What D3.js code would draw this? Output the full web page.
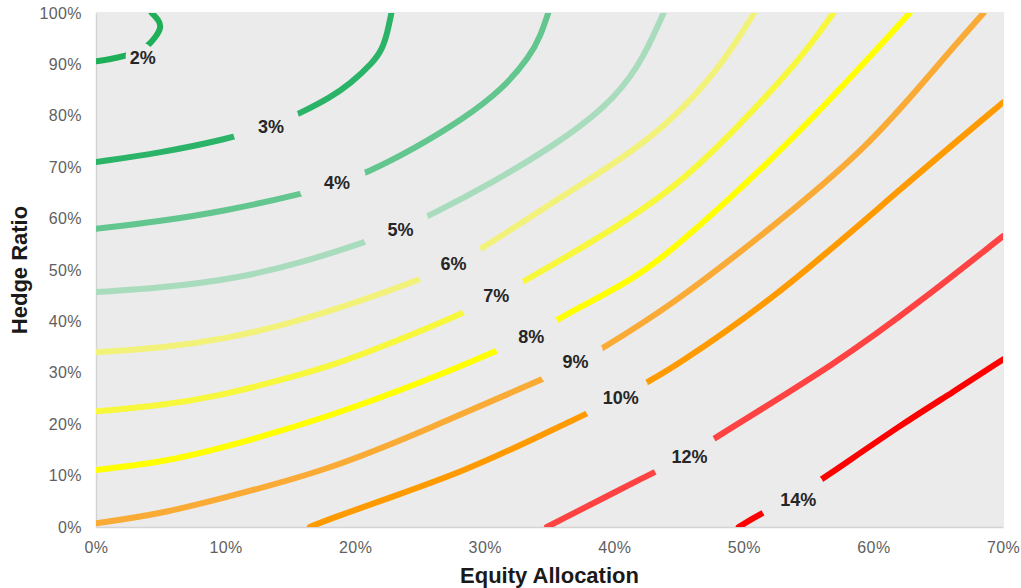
<!DOCTYPE html>
<html>
<head>
<meta charset="utf-8">
<script src="https://cdn.jsdelivr.net/npm/d3@7"></script>
<style>
  body { margin: 0; background: #fff; }
  svg { display: block; }
</style>
</head>
<body>
<div id="grafica-contornos"></div>
<script>
// volatility levels (one contour each)
const levels = ['2%', '3%', '4%', '5%', '6%', '7%', '8%', '9%', '10%', '12%', '14%']

// contour points: [equity allocation %, hedge ratio %]
const c2 = [[0, 90.6], [1.1, 91.0], [2.3, 91.7], [3.3, 92.4], [4.0, 93.6], [4.6, 95.3], [5.05, 97.2], [4.85, 98.6], [4.3, 100]]
const c3 = [[0, 71.0], [5, 72.8], [10, 75.4], [13.5, 77.9], [15.9, 80.7], [18.1, 83.6], [19.6, 86.2], [21.4, 90.4], [22.1, 93.0], [22.5, 96.3], [22.8, 100]]
const c4 = [[0, 58.0], [5, 59.5], [10, 61.5], [16.1, 64.9], [18.6, 66.8], [20.9, 68.9], [24.5, 73.5], [28.3, 79.3], [31.4, 85.2], [33.5, 91.6], [34.3, 95.5], [34.9, 100]]
const c5 = [[0, 45.7], [5, 46.5], [11, 48.4], [16, 51.5], [21, 55.6], [23.5, 58.0], [25.9, 60.8], [30.4, 66.7], [35.3, 74.1], [39.3, 81.5], [41.9, 89.3], [43.8, 100]]
const c6 = [[0, 34.0], [5, 34.8], [10, 36.6], [15, 39.6], [20, 43.6], [25.1, 48.2], [27.6, 51.0], [29.9, 54.3], [36, 64.4], [40.5, 71.5], [44.3, 78.7], [48.1, 89.1], [50.8, 100]]
const c7 = [[0, 22.5], [5, 23.6], [9.3, 25.4], [14, 28.4], [18.4, 31.5], [23, 36.0], [28.1, 41.3], [30.9, 44.8], [32.8, 47.5], [38, 55.0], [44.3, 65.0], [49.4, 77.4], [54.6, 91.7], [56.9, 100]]
const c8 = [[0, 11.1], [5, 12.6], [9.3, 15.0], [18.06, 21.5], [25, 28.0], [31.2, 34.5], [33.6, 37.4], [35.8, 40.7], [41.4, 48.1], [44.3, 53.4], [52.0, 70.9], [58.4, 87.8], [62.8, 100]]
const c9 = [[0, 0.7], [5, 2.6], [9.3, 5.3], [18.06, 11.1], [26, 19.5], [34.0, 28.3], [36.96, 31.5], [38.9, 34.5], [44.3, 42.9], [52.0, 57.9], [59.7, 74.1], [64.9, 89.7], [68.5, 100]]
const c10 = [[16.5, 0], [18.06, 1.6], [23, 6.0], [28.3, 10.8], [33, 16.2], [38.0, 22.2], [40.5, 25.3], [42.9, 28.7], [44.3, 30.6], [52.5, 44.6], [62.3, 66.3], [70, 82.6]]
const c12 = [[34.8, 0], [43.0, 10.6], [45.8, 14.0], [47.9, 17.6], [57.2, 31.9], [63.8, 44.2], [70, 56.6]]
const c14 = [[49.6, 0], [51.1, 2.3], [54.2, 6.3], [56.0, 9.2], [62.3, 20.2], [66, 26.0], [70, 32.6]]
const contours = [c2, c3, c4, c5, c6, c7, c8, c9, c10, c12, c14]

// where each level label sits, [equity %, hedge %]
const labelPos = [[3.6, 91.4], [13.5, 77.8], [18.6, 67.0], [23.5, 57.9], [27.6, 51.3], [30.9, 45.0], [33.6, 37.0], [37.0, 32.1], [40.5, 25.1], [45.8, 13.6], [54.2, 5.3]]

// axis ticks
const xTicks = [0, 10, 20, 30, 40, 50, 60, 70]
const yTicks = [0, 10, 20, 30, 40, 50, 60, 70, 80, 90, 100]

const lineColors = ['#1faf58', '#2bb468', '#62c68e', '#a8dcbd', '#f2f27a', '#f7f73c', '#ffff00', '#f9ab35', '#ff9a00', '#ff4242', '#ff0000']

const width = 1021
const height = 588
const margin = { top: 13, right: 18, bottom: 61, left: 96 }
const innerW = width - margin.left - margin.right
const innerH = height - margin.top - margin.bottom
const fontFam = 'Arial, "Liberation Sans", sans-serif'

const svg = d3.select('#grafica-contornos')
    .append('svg')
    .attr('width', width)
    .attr('height', height)

const x = d3.scaleLinear()
    .domain([0, 70])
    .range([margin.left, margin.left + innerW])

const y = d3.scaleLinear()
    .domain([0, 100])
    .range([margin.top + innerH, margin.top])

// plot background
svg.append('rect')
    .attr('x', x(0))
    .attr('y', y(100) - 1)
    .attr('width', x(70) - x(0) + 1)
    .attr('height', y(0) - y(100) + 1)
    .attr('fill', '#ebebeb')

const defs = svg.append('defs')
defs.append('clipPath')
    .attr('id', 'plot-clip')
    .append('rect')
    .attr('x', x(0))
    .attr('y', y(100))
    .attr('width', x(70) - x(0))
    .attr('height', y(0) - y(100))

// mask that opens a gap in each line where its label goes
const mask = defs.append('mask').attr('id', 'label-gaps')
mask.append('rect')
    .attr('width', width)
    .attr('height', height)
    .attr('fill', '#fff')
mask.selectAll('circle')
    .data(labelPos)
    .enter().append('circle')
    .attr('cx', (d, i) => x(d[0]) - (i === 0 ? 3 : 5))
    .attr('cy', (d, i) => y(d[1]) - (i === 0 ? 1 : 2))
    .attr('r', (d, i) => i === 0 ? 14 : 34)
    .attr('fill', '#000')

// axes
const xAxis = svg.append('g')
    .attr('class', 'x axis')
    .attr('transform', `translate(0, ${y(0)})`)
    .call(d3.axisBottom(x).tickValues(xTicks).tickFormat(d => d + '%').tickSize(0).tickPadding(15))

const yAxis = svg.append('g')
    .attr('class', 'y axis')
    .attr('transform', `translate(${x(0)}, 0)`)
    .call(d3.axisLeft(y).tickValues(yTicks).tickFormat(d => d + '%').tickSize(0).tickPadding(14))

svg.selectAll('.axis .domain').attr('stroke', '#d4d4d4').attr('stroke-width', 1.5)
svg.selectAll('.axis text')
    .style('font-family', fontFam)
    .style('font-size', '16px')
    .style('letter-spacing', '0.4px')
    .style('fill', '#5f5f5f')

// contour lines
const line = d3.line()
    .x(d => x(d[0]))
    .y(d => y(d[1]))
    .curve(d3.curveBasis)

svg.append('g')
    .attr('clip-path', 'url(#plot-clip)')
    .append('g')
    .attr('mask', 'url(#label-gaps)')
    .selectAll('.contour')
    .data(contours)
    .enter().append('path')
    .attr('class', 'contour')
    .attr('d', line)
    .attr('fill', 'none')
    .attr('stroke', (d, i) => lineColors[i])
    .attr('stroke-width', 6)
    .attr('stroke-linecap', 'round')

// level labels
svg.selectAll('.level')
    .data(levels)
    .enter().append('text')
    .attr('class', 'level')
    .attr('x', (d, i) => x(labelPos[i][0]))
    .attr('y', (d, i) => y(labelPos[i][1]))
    .attr('dy', '0.35em')
    .style('text-anchor', 'middle')
    .style('font-family', fontFam)
    .style('font-weight', 'bold')
    .style('font-size', '18px')
    .style('fill', '#262626')
    .text(d => d)

// axis titles
svg.append('text')
    .attr('x', (x(0) + x(70)) / 2)
    .attr('y', 583)
    .style('text-anchor', 'middle')
    .style('font-family', fontFam)
    .style('font-weight', 'bold')
    .style('font-size', '22px')
    .style('fill', '#1a1a1a')
    .text('Equity Allocation')

svg.append('text')
    .attr('transform', `translate(27, ${(y(0) + y(100)) / 2}) rotate(-90)`)
    .style('text-anchor', 'middle')
    .style('font-family', fontFam)
    .style('font-weight', 'bold')
    .style('font-size', '22px')
    .style('fill', '#1a1a1a')
    .text('Hedge Ratio')
</script>
</body>
</html>
